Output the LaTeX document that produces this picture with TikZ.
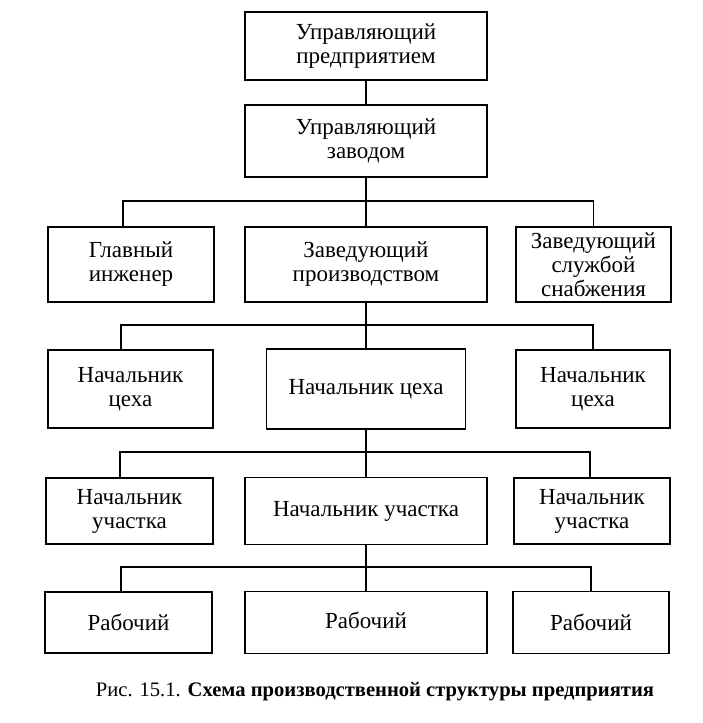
\documentclass[tikz,border=0pt]{standalone}
\usepackage{fontspec}
\setmainfont{Liberation Serif}
\usetikzlibrary{positioning}

\begin{document}
\begin{tikzpicture}[x=1pt, y=-1pt,
        every node/.style={draw=black,
        line width=1.3pt,
        align=center,
        inner sep=0pt,
        font=\fontsize{23}{24}\selectfont},
        line width=1.3pt]
        \useasboundingbox (0,0) rectangle (703,723);
        \node[minimum width=242pt, minimum height=68pt] (1) at (366,46) {Управляющий\\предприятием};
        \node[minimum width=242pt, minimum height=72pt] (2) at (366,141) {Управляющий\\заводом};
        \node[minimum width=166pt, minimum height=75pt] (3) at (131,264.5) {Главный\\инженер};
        \node[minimum width=242pt, minimum height=75pt] (4) at (366,264.5) {Заведующий\\производством};
        \node[minimum width=155pt, minimum height=75pt] (5) at (593.5,264.5) {Заведующий\\службой\\снабжения};
        \node[minimum width=165pt, minimum height=78pt] (6) at (130.5,389) {Начальник\\цеха};
        \node[minimum width=199pt, minimum height=80pt] (7) at (366,389) {Начальник цеха};
        \node[minimum width=154pt, minimum height=78pt] (8) at (593,389) {Начальник\\цеха};
        \node[minimum width=167pt, minimum height=66pt] (9) at (129.5,511) {Начальник\\участка};
        \node[minimum width=242pt, minimum height=67pt] (10) at (366,511) {Начальник участка};
        \node[minimum width=156pt, minimum height=66pt] (11) at (592,511) {Начальник\\участка};
        \node[minimum width=167pt, minimum height=61pt] (12) at (128.5,622.5) {Рабочий};
        \node[minimum width=242pt, minimum height=62pt] (13) at (366,622.5) {\raisebox{5pt}{Рабочий}};
        \node[minimum width=156pt, minimum height=62pt] (14) at (591,622.5) {Рабочий};
        \coordinate (k1) at (366,201);
        \coordinate (k2) at (366,325);
        \coordinate (k3) at (366,452);
        \coordinate (k4) at (366,567);
        \draw (1) -- (2);
        \draw (2) -- (4);
        \draw (4) -- (7);
        \draw (7) -- (10);
        \draw (10) -- (13);
        \draw ([xshift=-8pt]3.north) |- (k1) -| (5.north);
        \draw ([xshift=-9.5pt]6.north) |- (k2) -| (8.north);
        \draw ([xshift=-9.5pt]9.north) |- (k3) -| ([xshift=-2pt]11.north);
        \draw ([xshift=-7.5pt]12.north) |- (k4) -| (14.north);
        \begin{scope}[every node/.style={draw=none, inner sep=0pt, font=\fontsize{20.6}{24}\selectfont}]
            \node (cap) at (375,692) {Рис. 15.1. \textbf{Схема производственной структуры предприятия}};
        \end{scope}
    \end{tikzpicture}
\end{document}
